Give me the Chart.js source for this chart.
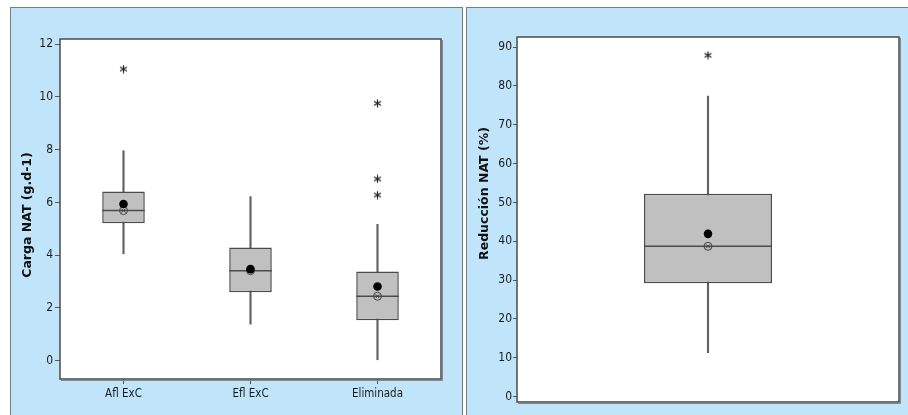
<!DOCTYPE html>
<html>
<head>
<meta charset="utf-8">
<script src="https://cdn.jsdelivr.net/npm/chart.js@4.4.1/dist/chart.umd.min.js"></script>
<style>
  html, body { margin: 0; padding: 0; background: #ffffff; width: 908px; height: 415px; overflow: hidden; }
  .panel { position: absolute; background: #C0E5FB; border: 1px solid #7c7c7c; border-bottom: none; box-sizing: border-box; }
  #panelLoad { left: 10px; top: 7px; width: 453px; height: 408px; }
  #panelReduction { left: 466px; top: 7px; width: 442px; height: 408px; border-right: none; }
  canvas { position: absolute; left: 0; top: 0; }
</style>
</head>
<body>
<div class="panel" id="panelLoad"><canvas id="loadChart" width="451" height="407"></canvas></div>
<div class="panel" id="panelReduction"><canvas id="reductionChart" width="441" height="407"></canvas></div>
<script>
// NAT load by sampling point (g.d-1)
const loadCategories   = ['Afl ExC', 'Efl ExC', 'Eliminada'];
const loadQ1           = [5.21, 2.59, 1.53];
const loadQ3           = [6.41, 4.29, 3.38];
const loadMedian       = [5.69, 3.41, 2.44];
const loadMean         = [5.94, 3.47, 2.81];
const loadWhiskerLow   = [4.05, 1.38, 0.03];
const loadWhiskerHigh  = [7.96, 6.22, 5.17];
const loadOutlierCats  = ['Afl ExC', 'Eliminada', 'Eliminada', 'Eliminada'];
const loadOutliers     = [11.06, 9.76, 6.89, 6.28];
const loadTicks        = [0, 2, 4, 6, 8, 10, 12];

// NAT reduction (%)
const reductionCategories  = ['Reducción NAT'];
const reductionQ1          = [29.2];
const reductionQ3          = [52.2];
const reductionMedian      = [38.7];
const reductionMean        = [41.9];
const reductionWhiskerLow  = [11.3];
const reductionWhiskerHigh = [77.4];
const reductionOutlierCats = ['Reducción NAT'];
const reductionOutliers    = [87.9];
const reductionTicks       = [0, 10, 20, 30, 40, 50, 60, 70, 80, 90];

const fontFamily = "'Liberation Sans Narrow', 'DejaVu Sans Condensed', 'Liberation Sans', sans-serif";
const yTickFont = { family: fontFamily, size: 12 };
const xTickFont = { family: fontFamily, size: 11.5 };
const titleFont = "bold 12.5px 'DejaVu Sans', 'Liberation Sans', sans-serif";

// six-armed asterisk used for outliers
function makeAsterisk(size, color) {
  const c = document.createElement('canvas');
  c.width = size; c.height = size;
  const g = c.getContext('2d');
  g.strokeStyle = color; g.lineWidth = 1.2;
  const cx = size / 2, cy = size / 2, r = size / 2 - 0.5;
  for (let k = 0; k < 3; k++) {
    const a = Math.PI / 2 + k * Math.PI / 3;
    g.beginPath();
    g.moveTo(cx + r * Math.cos(a), cy + r * Math.sin(a));
    g.lineTo(cx - r * Math.cos(a), cy - r * Math.sin(a));
    g.stroke();
  }
  return c;
}
const asterisk = makeAsterisk(9, '#222222');

// white plotting area with a dark frame
const framePlugin = {
  id: 'frame',
  beforeDraw(chart) {
    const { ctx, chartArea: a } = chart;
    ctx.save();
    ctx.fillStyle = '#ffffff';
    ctx.fillRect(a.left, a.top, a.right - a.left, a.bottom - a.top);
    ctx.restore();
  },
  afterDraw(chart) {
    const { ctx, chartArea: a } = chart;
    ctx.save();
    ctx.strokeStyle = '#4a4a4a';
    ctx.lineWidth = 1.5;
    ctx.strokeRect(a.left, a.top, a.right - a.left, a.bottom - a.top);
    ctx.strokeStyle = '#8a8a8a';
    ctx.lineWidth = 1;
    ctx.beginPath();
    ctx.moveTo(a.right + 1.5, a.top + 1);
    ctx.lineTo(a.right + 1.5, a.bottom + 1.5);
    ctx.lineTo(a.left + 1, a.bottom + 1.5);
    ctx.stroke();
    ctx.restore();
  }
};

// vertical axis title, placed along the axis with an adjustable centre
const axisTitlePlugin = {
  id: 'axisTitle',
  afterDraw(chart, args, opts) {
    const { ctx, chartArea: a } = chart;
    const cy = (a.top + a.bottom) / 2 + opts.shift;
    ctx.save();
    ctx.translate(opts.x, cy);
    ctx.rotate(-Math.PI / 2);
    ctx.font = titleFont;
    ctx.fillStyle = '#111111';
    ctx.textAlign = 'center';
    ctx.textBaseline = 'middle';
    ctx.fillText(opts.text, 0, 0);
    ctx.restore();
  }
};

// median line across each box
const medianPlugin = {
  id: 'medianLine',
  afterDatasetDraw(chart, args, opts) {
    if (args.meta.label !== 'box') return;
    const ctx = chart.ctx;
    const y = chart.scales.y;
    ctx.save();
    ctx.strokeStyle = '#4a4a4a';
    ctx.lineWidth = 1.5;
    args.meta.data.forEach((bar, i) => {
      const { x, width } = bar.getProps(['x', 'width'], true);
      const py = y.getPixelForValue(opts.values[i]);
      ctx.beginPath();
      ctx.moveTo(x - width / 2, py);
      ctx.lineTo(x + width / 2, py);
      ctx.stroke();
    });
    ctx.restore();
  }
};

function boxChart(id, d) {
  return new Chart(document.getElementById(id), {
    type: 'bar',
    data: {
      labels: d.categories,
      datasets: [
        { type: 'bar', label: 'whisker', data: d.categories.map((c, i) => [d.low[i], d.high[i]]),
          backgroundColor: '#626262', barThickness: 1.5, grouped: false, order: 4 },
        { type: 'bar', label: 'box', data: d.categories.map((c, i) => [d.q1[i], d.q3[i]]),
          backgroundColor: '#C0C0C0', borderColor: '#4a4a4a', borderWidth: 1.5, borderSkipped: false,
          barPercentage: 0.335, categoryPercentage: 1, grouped: false, order: 3 },
        { type: 'line', label: 'medianSymbol', data: d.median, showLine: false, pointStyle: 'circle',
          pointRadius: 4, pointBackgroundColor: 'rgba(0,0,0,0)', pointBorderColor: '#444444', pointBorderWidth: 1, order: 2 },
        { type: 'line', label: 'medianCross', data: d.median, showLine: false, pointStyle: 'crossRot',
          pointRadius: 2.8, pointBorderColor: '#444444', pointBorderWidth: 1, order: 2 },
        { type: 'line', label: 'mean', data: d.mean, showLine: false, pointStyle: 'circle',
          pointRadius: 4.3, pointBackgroundColor: '#000000', pointBorderColor: '#000000', pointBorderWidth: 0, order: 1 },
        { type: 'line', label: 'outliers', data: d.outlierCats.map((c, i) => ({ x: c, y: d.outliers[i] })),
          showLine: false, pointStyle: asterisk, order: 1 }
      ]
    },
    options: {
      responsive: false,
      animation: false,
      devicePixelRatio: 1,
      events: [],
      layout: { padding: d.padding },
      plugins: {
        legend: { display: false },
        tooltip: { enabled: false },
        medianLine: { values: d.median },
        axisTitle: { text: d.title, x: d.titleX, shift: d.titleShift }
      },
      scales: {
        x: {
          display: d.showX,
          offset: true,
          grid: { offset: false, drawOnChartArea: false, drawTicks: true, tickLength: 5, color: '#555555' },
          border: { display: false },
          ticks: { font: xTickFont, color: '#1a1a1a', padding: 3, maxRotation: 0 },
          afterFit(s) { s.height = d.xHeight; }
        },
        y: {
          min: d.min, max: d.max,
          grid: { drawOnChartArea: false, drawTicks: true, tickLength: d.tickLen, color: '#555555' },
          border: { display: false },
          ticks: { font: yTickFont, color: '#1a1a1a', padding: d.tickPad },
          afterBuildTicks(s) { s.ticks = d.ticks.map(v => ({ value: v })); },
          afterFit(s) { s.width = d.yWidth; }
        }
      }
    },
    plugins: [framePlugin, medianPlugin, axisTitlePlugin]
  });
}

boxChart('loadChart', {
  categories: loadCategories, q1: loadQ1, q3: loadQ3, median: loadMedian, mean: loadMean,
  low: loadWhiskerLow, high: loadWhiskerHigh, outlierCats: loadOutlierCats, outliers: loadOutliers,
  ticks: loadTicks, min: -0.7, max: 12.2, title: 'Carga NAT (g.d-1)', titleX: 17, titleShift: 6,
  padding: { left: 0, top: 31, right: 21, bottom: 0 }, yWidth: 49, xHeight: 36, showX: true,
  tickLen: 5, tickPad: 2
});

boxChart('reductionChart', {
  categories: reductionCategories, q1: reductionQ1, q3: reductionQ3, median: reductionMedian, mean: reductionMean,
  low: reductionWhiskerLow, high: reductionWhiskerHigh, outlierCats: reductionOutlierCats, outliers: reductionOutliers,
  ticks: reductionTicks, min: -1.4, max: 92.6, title: 'Reducción NAT (%)', titleX: 18, titleShift: -26,
  padding: { left: 0, top: 29, right: 9, bottom: 13 }, yWidth: 50, xHeight: 0, showX: false,
  tickLen: 4, tickPad: 1
});
</script>
</body>
</html>
